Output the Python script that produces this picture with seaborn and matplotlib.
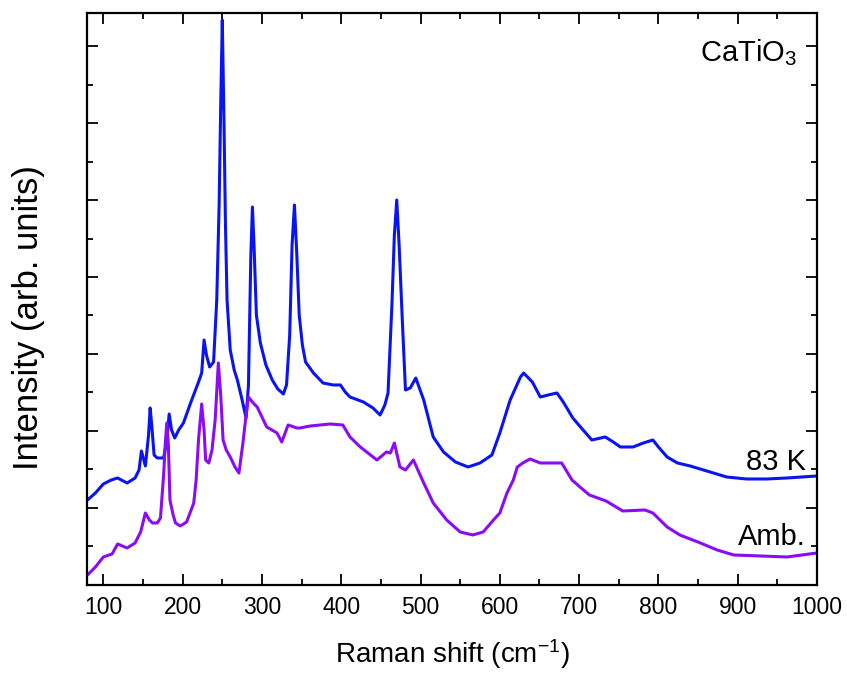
import numpy as np
import pandas as pd
import seaborn as sns
import matplotlib
matplotlib.use("Agg")
import matplotlib.pyplot as plt
from matplotlib.ticker import MultipleLocator, NullFormatter

# Raman shift (cm^-1) and intensity (arb. units) for the 83 K spectrum
shift_83k = [80, 90, 100, 110, 118, 125, 130, 140, 145, 148, 153, 157, 159, 161, 164, 168, 176,
             180, 183, 186, 190, 195, 201, 210, 220, 224, 227, 230, 234, 239, 243, 246, 248,
             250, 252, 254, 256, 260, 265, 269, 275, 280, 283, 286, 288, 290, 293, 298, 305,
             313, 320, 327, 331, 335, 338, 341, 344, 347, 351, 355, 365, 377, 390, 399, 405,
             411, 428, 440, 449, 455, 459, 464, 467, 470, 473, 477, 481, 487, 494, 504, 516,
             529, 544, 560, 575, 590, 600, 613, 626, 630, 641, 651, 661, 672, 680, 692, 705,
             716, 733, 743, 752, 768, 781, 793, 800, 811, 824, 840, 861, 886, 911, 937, 962, 1000]
int_83k = [85, 92, 101, 105, 107, 104, 102, 107, 115, 134, 119, 150, 177, 160, 130, 127, 127,
           145, 171, 155, 147, 155, 162, 182, 203, 212, 245, 230, 218, 223, 285, 380, 480,
           565, 470, 360, 285, 235, 215, 205, 185, 167, 200, 330, 378, 340, 270, 242, 220,
           205, 196, 191, 200, 250, 340, 380, 330, 270, 240, 223, 212, 202, 200, 200, 193,
           188, 183, 177, 170, 180, 192, 282, 350, 385, 340, 265, 195, 197, 207, 185, 148,
           133, 123, 118, 122, 130, 152, 185, 208, 212, 203, 188, 190, 192, 183, 167, 155,
           145, 148, 143, 138, 138, 142, 145, 138, 128, 122, 119, 114, 108, 106, 106, 107, 109]

# Raman shift (cm^-1) and intensity (arb. units) for the ambient spectrum
shift_amb = [80, 90, 100, 111, 118, 121, 130, 140, 147, 153, 158, 162, 168, 172, 176, 178, 180,
             182, 184, 188, 191, 197, 205, 214, 217, 220, 224, 227, 229, 233, 237, 241, 245,
             248, 251, 255, 260, 266, 271, 276, 280, 283, 289, 294, 306, 319, 325, 333, 344,
             348, 361, 386, 402, 411, 424, 445, 457, 462, 467, 474, 481, 491, 504, 516, 533,
             550, 566, 579, 592, 600, 609, 617, 622, 629, 638, 651, 678, 691, 701, 713, 734,
             755, 783, 793, 811, 827, 853, 874, 895, 929, 962, 1000]
int_amb = [10, 18, 28, 31, 41, 40, 37, 42, 53, 72, 65, 62, 62, 67, 110, 140, 162,
           140, 85, 70, 62, 59, 63, 82, 105, 145, 181, 155, 125, 122, 135, 165, 222,
           190, 145, 135, 128, 118, 112, 142, 170, 188, 182, 178, 158, 152, 143, 160, 157,
           157, 159, 161, 160, 148, 138, 125, 133, 132, 142, 118, 115, 125, 102, 82, 65,
           53, 50, 53, 65, 72, 92, 105, 118, 122, 126, 122, 122, 105, 98, 90, 84,
           74, 75, 72, 58, 50, 42, 35, 30, 29, 28, 32]

x_ticks = [100, 200, 300, 400, 500, 600, 700, 800, 900, 1000]

df = pd.concat([
    pd.DataFrame({"shift": shift_83k, "intensity": int_83k, "sample": "83 K"}),
    pd.DataFrame({"shift": shift_amb, "intensity": int_amb, "sample": "Amb."}),
], ignore_index=True)

sns.set_style("ticks")
plt.rcParams["font.family"] = ["Liberation Sans", "DejaVu Sans"]
plt.rcParams["text.color"] = "black"
plt.rcParams["axes.labelcolor"] = "black"
plt.rcParams["xtick.color"] = "black"
plt.rcParams["ytick.color"] = "black"
plt.rcParams["mathtext.fontset"] = "custom"
plt.rcParams["mathtext.rm"] = "Liberation Sans"
plt.rcParams["mathtext.it"] = "Liberation Sans"
plt.rcParams["mathtext.default"] = "regular"

fig = plt.figure(figsize=(8.47, 6.78), dpi=100)
ax = fig.add_axes([0.1033, 0.1372, 0.8613, 0.8436])

palette = {"83 K": "#0A14F0", "Amb.": "#8A0CF5"}
sns.lineplot(data=df, x="shift", y="intensity", hue="sample", palette=palette,
             linewidth=2.2, legend=False, ax=ax, sort=False)

ax.set_xlim(80, 1000)
ax.set_ylim(0, 572)
ax.set_xticks(x_ticks)
ax.set_xticklabels([str(t) for t in x_ticks])
ax.xaxis.set_minor_locator(MultipleLocator(50))
ax.yaxis.set_major_locator(MultipleLocator(77))
ax.yaxis.set_minor_locator(MultipleLocator(38.5))
ax.yaxis.set_major_formatter(NullFormatter())

ax.tick_params(which="both", direction="in", top=True, right=True, width=1.3, colors="black")
ax.tick_params(which="major", length=8)
ax.tick_params(which="minor", length=4.5)
for lbl in ax.get_xticklabels():
    lbl.set_fontfamily(["Liberation Sans Narrow", "Liberation Sans", "DejaVu Sans"])
    lbl.set_fontsize(16.5)
    lbl.set_color("black")
ax.tick_params(axis="x", pad=8)

for s in ax.spines.values():
    s.set_linewidth(1.6)
    s.set_color("black")

ax.set_xlabel("Raman shift (cm$^{-1}$)", fontsize=20, labelpad=13, color="black")
ax.set_ylabel("Intensity (arb. units)", fontsize=25, color="black")
ax.yaxis.set_label_coords(-0.058, 0.467)

ax.text(0.9726, 0.957, "CaTiO$_3$", transform=ax.transAxes, ha="right", va="top",
        fontsize=21, color="black")
ax.text(0.985, 0.201, "83 K", transform=ax.transAxes, ha="right", va="baseline",
        fontsize=21, color="black")
ax.text(0.985, 0.070, "Amb.", transform=ax.transAxes, ha="right", va="baseline",
        fontsize=21, color="black")

fig.savefig("out.png", dpi=100)
